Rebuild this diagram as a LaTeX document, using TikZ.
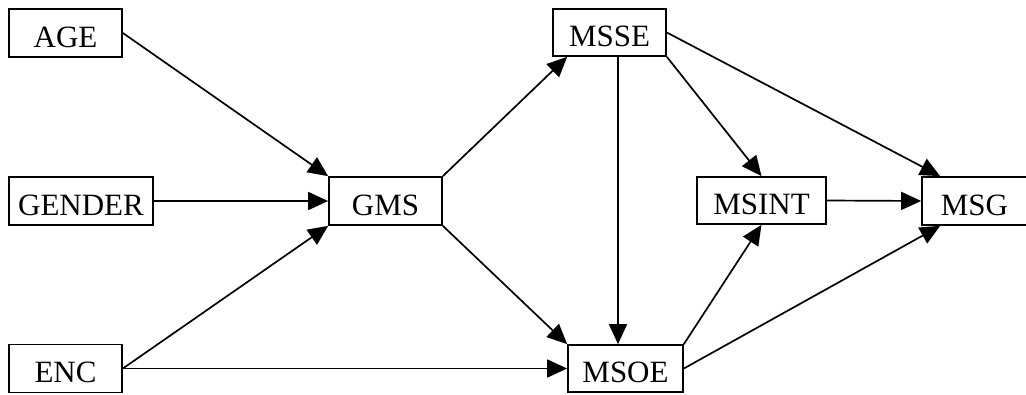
\documentclass[tikz,border=0pt]{standalone}
\usepackage{fontspec}
\setmainfont{Liberation Serif}
\usetikzlibrary{arrows.meta,calc}
\begin{document}
\begin{tikzpicture}[x=1pt,y=-1pt,
  box/.style={draw,line width=1.7pt,inner sep=0pt,minimum height=48pt,
    text height=28pt,text depth=0pt,font=\fontsize{31}{31}\selectfont},
  arr/.style={line width=1.7pt,-{Triangle[length=20pt,width=18pt]}}]
\useasboundingbox (0,0) rectangle (1026,394);
\fill[white] (0,0) rectangle (1026,394);
\node[box,minimum width=113pt] (age) at (65.5,33) {AGE};
\node[box,minimum width=144pt] (gender) at (81,201) {GENDER};
\node[box,minimum width=113pt] (enc) at (65.5,368.5) {ENC};
\node[box,minimum width=113pt] (gms) at (385.5,201) {GMS};
\node[box,minimum width=113pt,minimum height=47pt] (msse) at (609.5,32.5) {MSSE};
\node[box,minimum width=115pt,minimum height=47pt] (msoe) at (625.5,368.5) {MSOE};
\node[box,minimum width=129pt,minimum height=47pt] (msint) at (761.5,200.5) {MSINT};
\node[box,minimum width=105pt] (msg) at (974.5,201) {MSG};
\draw[arr] (age.east) -- (gms.north west);
\draw[arr] (gender.east) -- (gms.west);
\draw[arr] (enc.east) -- (gms.south west);
\draw[arr] (enc.east) -- (msoe.west);
\draw[arr] (gms.north east) -- ($(msse.south west)+(15,0)$);
\draw[arr] (gms.south east) -- (msoe.north west);
\coordinate (v) at ($(msse.south)+(8.5,0)$);
\draw[arr] (v) -- (v |- msoe.north);
\draw[arr] (msse.south east) -- (msint.north);
\draw[arr] (msse.east) -- ($(msg.north west)+(19,0)$);
\draw[arr] (msint.east) -- (msg.west);
\draw[arr] (msoe.north east) -- (msint.south);
\draw[arr] (msoe.east) -- ($(msg.south west)+(19,0)$);
\end{tikzpicture}
\end{document}
